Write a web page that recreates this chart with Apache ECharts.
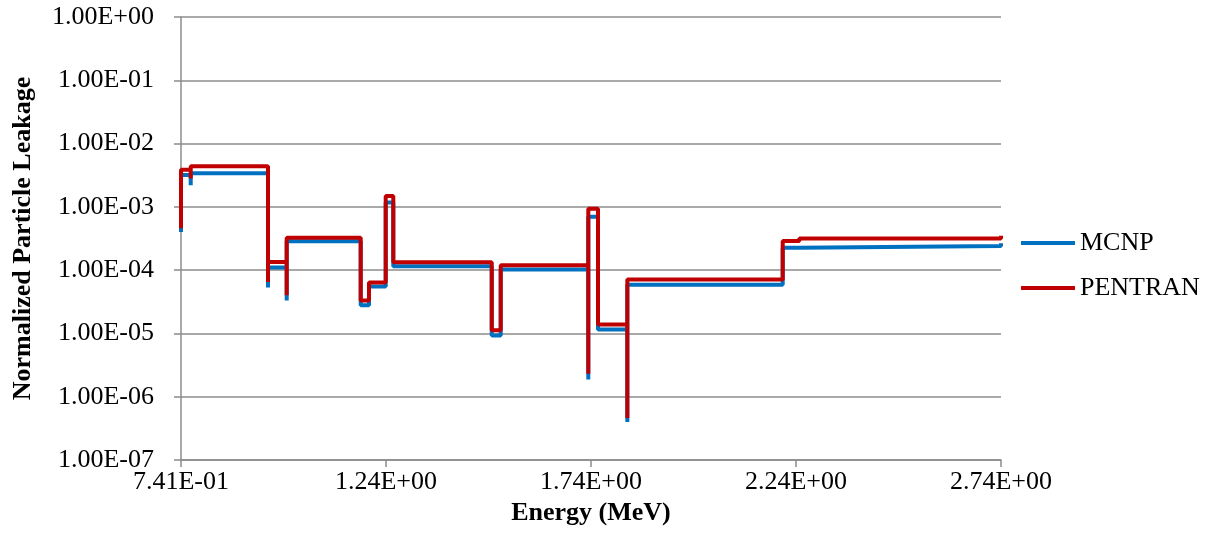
<!DOCTYPE html>
<html>
<head>
<meta charset="utf-8">
<script src="https://cdn.jsdelivr.net/npm/echarts@6/dist/echarts.min.js"></script>
<style>
html,body{margin:0;padding:0;background:#fff;}
#c{width:1219px;height:535px;}
</style>
</head>
<body>
<div id="c"></div>
<script>
// Energy (MeV) vertices of the step curves (shared by both series)
var energies = [
  0.741, 0.741, 0.7647, 0.7647, 0.7647, 0.9532, 0.9532, 0.9532,
  0.9988, 0.9988, 0.9988, 1.1793, 1.1793, 1.1995, 1.1995, 1.2403,
  1.2403, 1.2588, 1.2588, 1.4989, 1.4989, 1.5208, 1.5208, 1.7344,
  1.7344, 1.7344, 1.7581, 1.7581, 1.8296, 1.8296, 1.8296, 2.2086,
  2.2086, 2.2491, 2.2491, 2.741, 2.741
];
var mcnp = [
  4.0e-4, 3.2e-3, 3.2e-3, 2.2e-3, 3.4e-3, 3.4e-3, 5.3e-5, 1.1e-4,
  1.1e-4, 3.3e-5, 2.85e-4, 2.85e-4, 2.8e-5, 2.8e-5, 5.5e-5, 5.5e-5,
  1.17e-3, 1.17e-3, 1.15e-4, 1.15e-4, 9.3e-6, 9.3e-6, 1.02e-4, 1.02e-4,
  1.87e-6, 7.0e-4, 7.0e-4, 1.15e-5, 1.15e-5, 4.0e-7, 5.9e-5, 5.9e-5,
  2.25e-4, 2.25e-4, 2.4e-4, 2.4e-4, 2.67e-4
];
var pentran = [
  4.6e-4, 3.85e-3, 3.85e-3, 2.8e-3, 4.37e-3, 4.37e-3, 6.5e-5, 1.34e-4,
  1.34e-4, 4.0e-5, 3.25e-4, 3.25e-4, 3.3e-5, 3.3e-5, 6.4e-5, 6.4e-5,
  1.49e-3, 1.49e-3, 1.33e-4, 1.33e-4, 1.12e-5, 1.12e-5, 1.2e-4, 1.2e-4,
  2.3e-6, 9.3e-4, 9.3e-4, 1.39e-5, 1.39e-5, 4.6e-7, 7.1e-5, 7.1e-5,
  2.9e-4, 2.9e-4, 3.15e-4, 3.15e-4, 3.5e-4
];
var seriesNames = ['MCNP', 'PENTRAN'];
var xMin = 0.741, xMax = 2.741, xStep = 0.5;
var yMin = 1e-7, yMax = 1;

function sci(v) {
  var s = Number(v).toExponential(2).toUpperCase();
  var m = s.match(/^(-?[\d.]+)E([+-])(\d+)$/);
  if (!m) return s;
  var e = m[3].length < 2 ? '0' + m[3] : m[3];
  return m[1] + 'E' + m[2] + e;
}
function pairs(xs, ys) { return xs.map(function (x, i) { return [x, ys[i]]; }); }

var font = 'Liberation Serif, Times New Roman, serif';
var grey = '#8c8c8c';
var chart = echarts.init(document.getElementById('c'));
chart.setOption({
  animation: false,
  backgroundColor: '#fff',
  textStyle: { fontFamily: font },
  grid: { left: 181, right: 218, top: 17, bottom: 75, containLabel: false, outerBoundsMode: 'none' },
  legend: {
    orient: 'vertical', left: 1021, top: 230, padding: 0, itemWidth: 54, itemHeight: 4, itemGap: 19,
    icon: 'rect',
    textStyle: { fontFamily: font, fontSize: 26, color: '#000' },
    data: seriesNames
  },
  xAxis: {
    type: 'value', min: xMin, max: xMax, interval: xStep,
    name: 'Energy (MeV)', nameLocation: 'middle', nameGap: 24,
    nameTextStyle: { fontFamily: font, fontSize: 26, fontWeight: 'bold', color: '#000' },
    axisLine: { show: true, onZero: false, lineStyle: { color: grey, width: 1.5 } },
    axisTick: { show: true, length: 7, lineStyle: { color: grey, width: 1.5 } },
    splitLine: { show: false },
    axisLabel: { margin: 9, fontFamily: font, fontSize: 26, color: '#000', formatter: sci }
  },
  yAxis: {
    type: 'log', logBase: 10, min: yMin, max: yMax,
    name: 'Normalized Particle Leakage', nameLocation: 'middle', nameGap: 145, nameRotate: 90,
    nameTextStyle: { fontFamily: font, fontSize: 26, fontWeight: 'bold', color: '#000' },
    axisLine: { show: true, lineStyle: { color: grey, width: 1.5 } },
    axisTick: { show: true, length: 7, lineStyle: { color: grey, width: 1.5 } },
    splitLine: { show: true, lineStyle: { color: grey, width: 1.5 } },
    axisLabel: { margin: 27, fontFamily: font, fontSize: 26, color: '#000', formatter: sci }
  },
  series: [
    { name: seriesNames[0], type: 'line', data: pairs(energies, mcnp), symbol: 'none',
      lineStyle: { color: '#0070C0', width: 4 }, itemStyle: { color: '#0070C0' }, z: 2 },
    { name: seriesNames[1], type: 'line', data: pairs(energies, pentran), symbol: 'none',
      lineStyle: { color: '#C00000', width: 4 }, itemStyle: { color: '#C00000' }, z: 3 }
  ]
});
</script>
</body>
</html>
